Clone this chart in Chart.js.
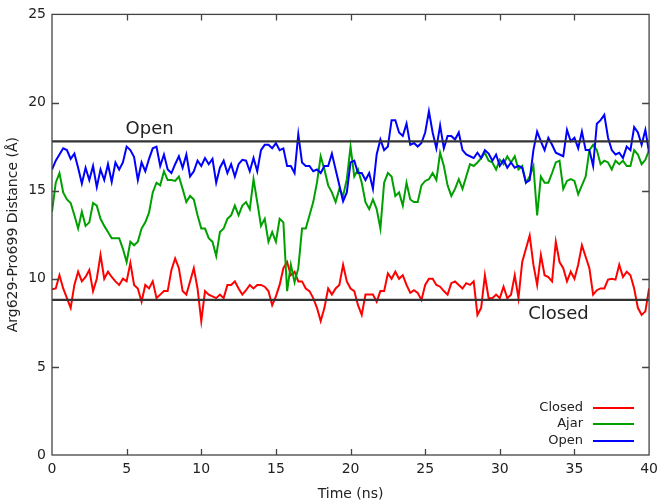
<!DOCTYPE html>
<html>
<head>
<meta charset="utf-8">
<script src="https://cdn.jsdelivr.net/npm/chart.js@4/dist/chart.umd.min.js"></script>
<style>
  html, body { margin: 0; padding: 0; background: #fff; }
  #wrap { width: 664px; height: 503px; }
</style>
</head>
<body>
<div id="wrap"><canvas id="chart" width="664" height="503"></canvas></div>
<script>
const timeStep = 0.25;

const closedValues = [
  9.4, 9.45, 10.2, 9.45, 8.9, 8.35, 9.65, 10.4, 9.85, 10.1, 10.5, 9.3, 10.0, 11.35, 10.0, 10.4,
  10.1, 9.85, 9.65, 10.0, 9.85, 10.9, 9.65, 9.45, 8.7, 9.65, 9.45, 9.85,
  8.9, 9.1, 9.3, 9.3, 10.5, 11.15, 10.6, 9.3, 9.1, 9.85, 10.6, 9.45, 7.6, 9.3, 9.1, 9.0,
  8.9, 9.1, 8.9, 9.65, 9.65, 9.85, 9.45, 9.1,
  9.35, 9.65, 9.45, 9.65, 9.65, 9.55, 9.3, 8.5, 9.0, 9.65, 10.6, 10.95, 10.2, 10.4, 9.85, 9.85,
  9.45, 9.3, 8.9, 8.35, 7.6, 8.35, 9.45, 9.1, 9.45, 9.65, 10.8, 9.85,
  9.45, 9.3, 8.5, 7.95, 9.1, 9.1, 9.1, 8.7, 9.3, 9.3, 10.3, 10.0, 10.4, 10.0, 10.2, 9.65,
  9.2, 9.35, 9.2, 8.8, 9.65, 10.0, 10.0, 9.65, 9.55, 9.3, 9.1, 9.75,
  9.85, 9.65, 9.45, 9.75, 9.65, 9.85, 7.95, 8.35, 10.2, 8.9, 8.9, 9.1, 8.9, 9.55, 8.9, 9.1,
  10.2, 8.9, 10.95, 11.7, 12.45, 10.8, 9.65, 11.35,
  10.2, 10.1, 9.85, 12.1, 10.95, 10.6, 9.85, 10.4, 10.0, 10.8, 11.9, 11.25, 10.6, 9.1, 9.35, 9.45,
  9.45, 9.95, 10.0, 9.95, 10.8, 10.1, 10.4, 10.2, 9.45, 8.35, 7.95, 8.15, 9.45
];

const ajarValues = [
  13.8, 15.45, 16.0, 14.9, 14.5, 14.3, 13.6, 12.85, 13.8, 13.0, 13.2, 14.3, 14.15, 13.4, 13.0, 12.65,
  12.3, 12.3, 12.3, 11.7, 10.95, 12.1, 11.9, 12.1, 12.85, 13.2, 13.75, 14.9,
  15.45, 15.3, 16.1, 15.6, 15.6, 15.55, 15.8, 15.1, 14.35, 14.7, 14.5, 13.6, 12.85, 12.85, 12.3, 12.1,
  11.3, 12.65, 12.85, 13.4, 13.6, 14.15, 13.6, 14.15,
  14.35, 13.95, 15.65, 14.35, 13.0, 13.4, 12.1, 12.65, 12.1, 13.4, 13.2, 9.3, 10.8, 9.8, 10.6, 12.85,
  12.85, 13.6, 14.35, 15.45, 16.95, 16.2, 15.3, 14.9, 14.35, 15.1, 14.7, 15.65,
  17.5, 15.8, 16.2, 15.45, 14.35, 13.95, 14.5, 13.95, 12.85, 15.45, 16.0, 15.8, 14.7, 14.9, 14.15, 15.45,
  14.5, 14.35, 14.35, 15.3, 15.55, 15.65, 16.0, 15.6, 17.15, 16.4, 15.3, 14.7,
  15.1, 15.65, 15.1, 15.8, 16.5, 16.4, 16.6, 16.85, 17.15, 16.7, 16.6, 16.2, 16.75, 16.5, 16.95, 16.6,
  16.95, 16.2, 16.4, 15.45, 15.8, 16.4, 13.6, 15.8,
  15.45, 15.45, 16.0, 16.6, 16.7, 15.1, 15.55, 15.65, 15.55, 14.8, 15.3, 15.8, 17.3, 17.6, 17.3, 16.5,
  16.7, 16.6, 16.2, 16.7, 16.5, 16.7, 16.4, 16.4, 17.3, 17.05, 16.5, 16.75, 17.3
];

const openValues = [
  16.2, 16.7, 17.05, 17.4, 17.3, 16.8, 17.1, 16.3, 15.4, 16.3, 15.6, 16.4, 15.2, 16.2, 15.6, 16.5,
  15.5, 16.6, 16.2, 16.6, 17.5, 17.3, 16.9, 15.6, 16.6, 16.1, 16.8, 17.4,
  17.5, 16.4, 17.05, 16.2, 16.0, 16.5, 16.95, 16.3, 17.05, 15.8, 16.1, 16.7, 16.4, 16.85, 16.5, 16.8,
  15.45, 16.3, 16.7, 16.0, 16.5, 15.8, 16.5, 16.75,
  16.7, 16.1, 16.85, 16.1, 17.3, 17.6, 17.6, 17.4, 17.7, 17.3, 17.4, 16.4, 16.4, 16.0, 18.2, 16.6,
  16.4, 16.4, 16.1, 16.2, 16.0, 16.4, 16.4, 17.1, 16.2, 15.3, 14.4, 14.9,
  16.6, 16.7, 16.0, 16.0, 15.6, 16.0, 15.1, 17.05, 17.9, 17.3, 17.5, 19.0, 19.0, 18.3, 18.1, 18.8,
  17.6, 17.7, 17.5, 17.7, 18.3, 19.5, 18.3, 17.4, 18.7, 17.4, 18.1, 18.1,
  17.9, 18.3, 17.3, 17.05, 16.95, 16.85, 17.15, 16.85, 17.3, 17.1, 16.7, 17.05, 16.4, 16.75, 16.3, 16.6,
  16.3, 16.4, 16.3, 15.45, 15.6, 17.3, 18.35, 17.8,
  17.3, 18.0, 17.6, 17.15, 17.05, 16.95, 18.45, 17.8, 18.0, 17.4, 18.35, 17.3, 17.3, 16.4, 18.8, 19.0,
  19.3, 18.0, 17.3, 17.05, 17.15, 16.85, 17.5, 17.3, 18.6, 18.3, 17.6, 18.45, 17.15
];

// reference levels drawn as horizontal lines
const openLevel = 17.8;
const closedLevel = 8.8;
const timeRange = [0, 40];

const xTicks = [0, 5, 10, 15, 20, 25, 30, 35, 40];
const yTicks = [0, 5, 10, 15, 20, 25];

const seriesNames = ['Closed', 'Ajar', 'Open'];
const seriesColors = ['#ff0000', '#00a000', '#0000ff'];

function toPoints(values) {
  return values.map((v, i) => ({ x: i * timeStep, y: v }));
}

const textColor = '#222';
const axisColor = '#444';

// frame, mirrored inward ticks, level labels and the key
const decorPlugin = {
  id: 'decor',
  afterDraw(chart) {
    const ctx = chart.ctx;
    const a = chart.chartArea;
    const xs = chart.scales.x;
    const ys = chart.scales.y;
    ctx.save();
    ctx.strokeStyle = axisColor;
    ctx.lineWidth = 1.3;
    ctx.strokeRect(a.left, a.top, a.right - a.left, a.bottom - a.top);

    ctx.beginPath();
    xTicks.slice(1, -1).forEach(t => {
      const px = Math.round(xs.getPixelForValue(t)) + 0.5;
      ctx.moveTo(px, a.bottom); ctx.lineTo(px, a.bottom - 6);
      ctx.moveTo(px, a.top); ctx.lineTo(px, a.top + 6);
    });
    yTicks.slice(1, -1).forEach(t => {
      const py = Math.round(ys.getPixelForValue(t)) + 0.5;
      ctx.moveTo(a.left, py); ctx.lineTo(a.left + 7, py);
      ctx.moveTo(a.right, py); ctx.lineTo(a.right - 7, py);
    });
    ctx.stroke();

    // level labels
    ctx.fillStyle = textColor;
    ctx.font = '18px "DejaVu Sans"';
    ctx.textBaseline = 'middle';
    ctx.textAlign = 'left';
    ctx.fillText('Open', xs.getPixelForValue(4.93), ys.getPixelForValue(18.5));
    ctx.fillText('Closed', xs.getPixelForValue(31.9), ys.getPixelForValue(7.98));

    // key, bottom right
    ctx.font = '13px "DejaVu Sans"';
    ctx.textAlign = 'right';
    const keyY = [408, 424, 441];
    seriesNames.forEach((name, i) => {
      ctx.fillStyle = textColor;
      ctx.fillText(name, 583, keyY[i]);
      ctx.strokeStyle = seriesColors[i];
      ctx.lineWidth = 2;
      ctx.beginPath();
      ctx.moveTo(593, keyY[i]);
      ctx.lineTo(634, keyY[i]);
      ctx.stroke();
    });
    ctx.restore();
  }
};

const datasets = [closedValues, ajarValues, openValues].map((vals, i) => ({
  label: seriesNames[i],
  data: toPoints(vals),
  borderColor: seriesColors[i],
  borderWidth: 2,
  pointRadius: 0,
  tension: 0,
  fill: false,
  order: 3 - i
}));

[openLevel, closedLevel].forEach(level => {
  datasets.push({
    label: 'level',
    data: timeRange.map(t => ({ x: t, y: level })),
    borderColor: '#333',
    borderWidth: 2.2,
    pointRadius: 0,
    fill: false,
    order: 0
  });
});

new Chart(document.getElementById('chart'), {
  type: 'line',
  data: { datasets: datasets },
  options: {
    responsive: false,
    animation: false,
    layout: { padding: { left: 0, right: 12, top: 10, bottom: 0 } },
    plugins: { legend: { display: false }, tooltip: { enabled: false } },
    scales: {
      x: {
        type: 'linear',
        min: timeRange[0],
        max: timeRange[1],
        afterBuildTicks: s => { s.ticks = xTicks.map(v => ({ value: v })); },
        afterFit: s => { s.height = 48; },
        grid: { display: false, drawTicks: false },
        border: { display: false },
        ticks: { color: textColor, font: { family: 'DejaVu Sans', size: 14 }, padding: 6, maxRotation: 0 },
        title: { display: true, text: 'Time (ns)', color: textColor, font: { family: 'DejaVu Sans', size: 14 }, padding: { top: 11, bottom: 0 } }
      },
      y: {
        min: 0,
        max: 25,
        afterBuildTicks: s => { s.ticks = yTicks.map(v => ({ value: v })); },
        afterFit: s => { s.width = 52; },
        grid: { display: false, drawTicks: false },
        border: { display: false },
        ticks: { color: textColor, font: { family: 'DejaVu Sans', size: 14 }, padding: 6 },
        title: { display: true, text: 'Arg629-Pro699 Distance (Å)', color: textColor, font: { family: 'DejaVu Sans', size: 14 }, padding: { top: 5, bottom: 0 } }
      }
    }
  },
  plugins: [decorPlugin]
});
</script>
</body>
</html>
